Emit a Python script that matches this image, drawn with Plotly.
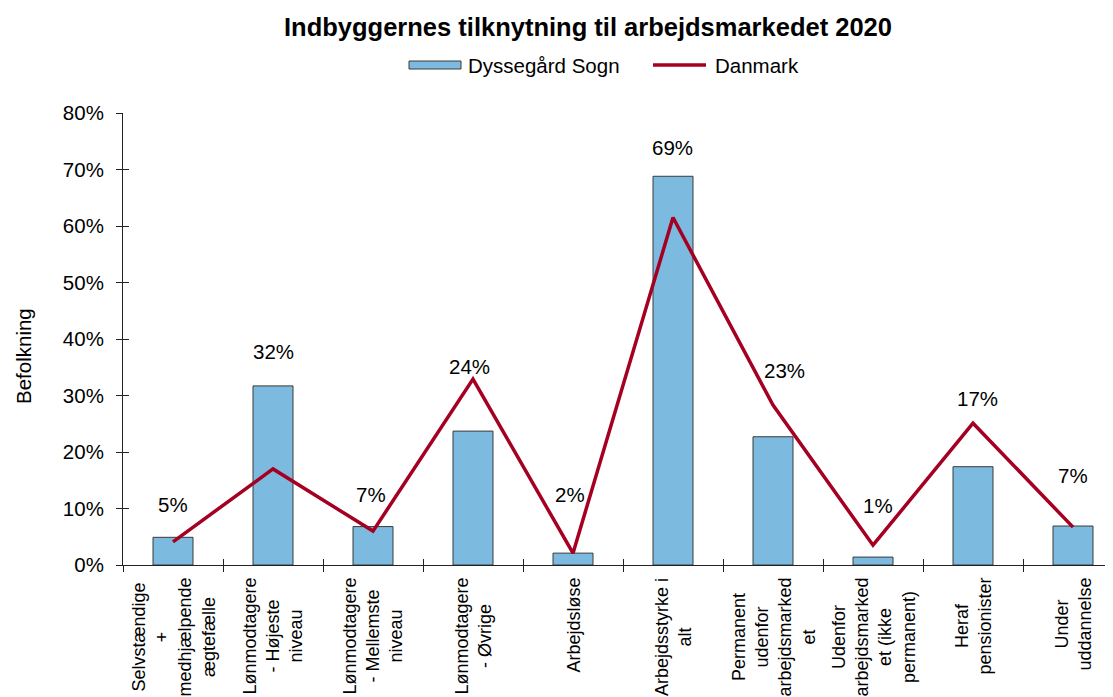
import plotly.graph_objects as go

# ---- data ----
categories = [
    "Selvstændige<br>+<br>medhjælpende<br>ægtefælle",
    "Lønmodtagere<br>- Højeste<br>niveau",
    "Lønmodtagere<br>- Mellemste<br>niveau",
    "Lønmodtagere<br>- Øvrige",
    "Arbejdsløse",
    "Arbejdsstyrke i<br>alt",
    "Permanent<br>udenfor<br>arbejdsmarked<br>et",
    "Udenfor<br>arbejdsmarked<br>et (ikke<br>permanent)",
    "Heraf<br>pensionister",
    "Under<br>uddannelse",
]
dyssegaard = [4.9, 31.7, 6.8, 23.7, 2.1, 68.8, 22.7, 1.4, 17.4, 6.9]
danmark = [4.1, 17.0, 6.0, 32.9, 2.1, 61.5, 28.3, 3.5, 25.1, 6.7]
series_names = ["Dyssegård Sogn", "Danmark"]
title_text = "Indbyggernes tilknytning til arbejdsmarkedet 2020"
y_title = "Befolkning"
y_ticks = [0, 10, 20, 30, 40, 50, 60, 70, 80]

# ---- layout helpers (positions, not data) ----
label_y = [10.7, 37.7, 12.5, 35.1, 12.5, 73.9, 34.4, 10.5, 29.4, 15.8]
label_dx = [0, 0, -2, -4, -3, -1, 11, 5, 4, 0]

FONT = "Liberation Sans, Arial, sans-serif"
BAR_COLOR = "#7CBADF"
LINE_COLOR = "#A50021"

OFF = 8  # page body margin
W, H = 1113 - OFF, 697 - OFF
L, R, T, B = 123 - OFF, 0, 113 - OFF, 132
PW, PH = W - L - R, H - T - B


def px_x(px):
    return (px - OFF - L) / PW


def px_y(py):
    return (H - B - (py - OFF)) / PH


fig = go.Figure()
fig.add_trace(go.Bar(
    x=categories, y=dyssegaard, name=series_names[0], width=0.4,
    marker=dict(color=BAR_COLOR, line=dict(color="#3a3a3a", width=1)),
    showlegend=False,
))
fig.add_trace(go.Scatter(
    x=categories, y=danmark, name=series_names[1], mode="lines",
    line=dict(color=LINE_COLOR, width=3.5),
    showlegend=False,
))

annotations = []
# data labels
for i, v in enumerate(dyssegaard):
    annotations.append(dict(
        x=categories[i], y=label_y[i], xref="x", yref="y",
        text=f"{round(v)}%", showarrow=False, xshift=label_dx[i],
        xanchor="center", yanchor="middle",
        font=dict(family=FONT, size=20.5, color="black"),
    ))
# x category labels (rotated)
for c in categories:
    annotations.append(dict(
        x=c, y=0, xref="x", yref="paper", text=c, showarrow=False,
        textangle=-90, xanchor="center", yanchor="top", yshift=-11,
        align="center", font=dict(family=FONT, size=18, color="black"),
    ))
# y axis title
annotations.append(dict(
    x=px_x(23), y=px_y(356), xref="paper", yref="paper", text=y_title,
    showarrow=False, textangle=-90, xanchor="center", yanchor="middle",
    font=dict(family=FONT, size=20.5, color="black"),
))
# legend texts
annotations.append(dict(
    x=px_x(466), y=px_y(66), xref="paper", yref="paper", text=series_names[0],
    showarrow=False, xanchor="left", yanchor="middle",
    font=dict(family=FONT, size=20.5, color="black"),
))
annotations.append(dict(
    x=px_x(713), y=px_y(66), xref="paper", yref="paper", text=series_names[1],
    showarrow=False, xanchor="left", yanchor="middle",
    font=dict(family=FONT, size=20.5, color="black"),
))

shapes = [
    dict(type="rect", xref="paper", yref="paper",
         x0=px_x(409), x1=px_x(461), y0=px_y(69), y1=px_y(61),
         fillcolor=BAR_COLOR, line=dict(color="#3a3a3a", width=1)),
    dict(type="line", xref="paper", yref="paper",
         x0=px_x(653), x1=px_x(706), y0=px_y(65), y1=px_y(65),
         line=dict(color=LINE_COLOR, width=3.5)),
]

boundary_ticks = [i - 0.5 for i in range(len(categories) + 1)]
xrange = [-0.5, len(categories) - 0.6]

fig.update_layout(
    width=W, height=H,
    margin=dict(l=L, r=R, t=T, b=B, pad=0),
    paper_bgcolor="white", plot_bgcolor="white",
    font=dict(family=FONT, size=20.5, color="black"),
    title=dict(text=f"<b>{title_text}</b>", x=(588 - OFF) / W, y=1 - (27 - OFF) / H,
               xanchor="center", yanchor="middle", xref="container", yref="container",
               font=dict(family=FONT, size=25.5, color="black")),
    xaxis=dict(
        type="category", range=xrange, showgrid=False, zeroline=False,
        showline=True, linecolor="#222", linewidth=1,
        tickmode="array", tickvals=boundary_ticks, ticktext=[""] * len(boundary_ticks),
        ticks="outside", ticklen=6, tickcolor="#222", showticklabels=False,
        fixedrange=True,
    ),
    xaxis2=dict(
        overlaying="x", matches="x", type="category", range=xrange,
        showgrid=False, zeroline=False, showline=False,
        tickmode="array", tickvals=boundary_ticks, ticktext=[""] * len(boundary_ticks),
        ticks="inside", ticklen=6, tickcolor="#222", showticklabels=False,
        side="bottom",
    ),
    yaxis=dict(
        range=[0, 80], showgrid=False, zeroline=False,
        showline=True, linecolor="#222", linewidth=1,
        tickmode="array", tickvals=y_ticks, ticktext=[f"{t}%" for t in y_ticks],
        ticks="outside", ticklen=6, tickcolor="#222",
        tickfont=dict(family=FONT, size=20.5, color="black"),
        ticklabelstandoff=8,
    ),
    yaxis2=dict(
        overlaying="y", matches="y", range=[0, 80], showgrid=False, zeroline=False,
        showline=False, tickmode="array", tickvals=y_ticks,
        ticks="inside", ticklen=6, tickcolor="#222", showticklabels=False,
        side="left",
    ),
    annotations=annotations,
    shapes=shapes,
    bargap=0.6,
)

# invisible trace to activate the overlay axes
fig.add_trace(go.Scatter(x=[categories[0]], y=[0], xaxis="x2", yaxis="y2",
                         mode="markers", marker=dict(opacity=0), showlegend=False,
                         hoverinfo="skip"))

fig.write_html("out.html")
